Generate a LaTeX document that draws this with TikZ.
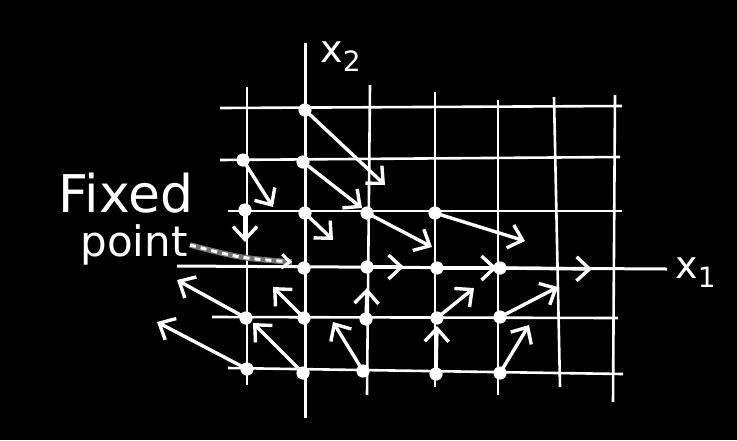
\documentclass[tikz,border=0pt]{standalone}
\usepackage{fontspec}
\setmainfont{DejaVu Sans}
\usetikzlibrary{arrows.meta}
\tikzset{
  gridline/.style={white,line width=1.3pt},
  axisline/.style={white,line width=1.5pt},
  vec/.style={white,line width=1.7pt,line cap=round,-{Straight Barb[length=6.5pt,width=12pt,line width=1.7pt]}},
  handtext/.style={white,inner sep=0pt,anchor=base west},
}
\newcommand{\gdot}[2]{\fill[white] (#1,#2) circle (3.3pt);}
\begin{document}
\begin{tikzpicture}[x=0.5pt,y=-0.5pt]
\fill[black] (0,0) rectangle (737,440);
\useasboundingbox (0,0) rectangle (737,440);
\draw[gridline] (247,87) -- (247,385);
\draw[gridline] (370,85) -- (367,395);
\draw[gridline] (435,92) -- (435,387);
\draw[gridline] (498,100) -- (498,395);
\draw[gridline] (554,97) -- (560,387);
\draw[gridline] (615,95) -- (613,402);
\draw[gridline] (220,108) -- (622,106);
\draw[gridline] (220,160) -- (620,157);
\draw[gridline] (228,211) -- (622,211);
\draw[gridline] (212,317) -- (618,318);
\draw[gridline] (228,368) -- (623,374);
\draw[axisline] (305,43) -- (305,418);
\draw[axisline] (177,266) -- (667,269);
\gdot{305}{110} \gdot{243}{160} \gdot{303}{162}
\gdot{245}{210} \gdot{305}{213} \gdot{367}{213} \gdot{435}{213}
\gdot{304}{268} \gdot{367}{267} \gdot{437}{268} \gdot{500}{268}
\gdot{246}{318} \gdot{304}{318} \gdot{366}{319} \gdot{437}{318} \gdot{500}{317}
\gdot{247}{369} \gdot{303}{373} \gdot{363}{371} \gdot{436}{374} \gdot{500}{373}
\draw[vec] (305,110) -- (385,185);
\draw[vec] (243,160) -- (273,207);
\draw[vec] (303,162) -- (362,208);
\draw[vec] (245,210) -- (245,242);
\draw[vec] (305,213) -- (333,240);
\draw[vec] (367,213) -- (432,247);
\draw[vec] (435,213) -- (525,241);
\draw[vec] (367,267) -- (404,267);
\draw[vec] (437,268) -- (497,268);
\draw[vec] (500,268) -- (592,269);
\draw[vec] (246,318) -- (177,280);
\draw[vec] (304,318) -- (273,287);
\draw[vec] (366,319) -- (367,288);
\draw[vec] (437,318) -- (474,288);
\draw[vec] (500,317) -- (558,287);
\draw[vec] (247,369) -- (157,322);
\draw[vec] (303,373) -- (253,323);
\draw[vec] (363,371) -- (333,322);
\draw[vec] (436,374) -- (437,326);
\draw[vec] (500,373) -- (529,325);
\node[handtext,font=\fontsize{26}{29}\selectfont] (fixed) at (58,212) {Fixed};
\node[handtext,font=\fontsize{21}{24}\selectfont] (point) at (80,256) {point};
\coordinate (fp) at (292,262);
\draw[black!55,line width=2.8pt] (190,245) .. controls (240,258) .. (fp);
\draw[white,line width=1.5pt,dash pattern=on 3pt off 2.5pt,-{Straight Barb[length=4pt,width=7pt]}] (190,245) .. controls (240,258) .. (fp);
\node[handtext,font=\fontsize{19}{22}\selectfont] (xtwo) at (320,62) {x\raisebox{-0.45ex}{\fontsize{14}{16}\selectfont 2}};
\node[handtext,font=\fontsize{19}{22}\selectfont] (xone) at (675,278) {x\raisebox{-0.45ex}{\fontsize{14}{16}\selectfont 1}};
\end{tikzpicture}
\end{document}
